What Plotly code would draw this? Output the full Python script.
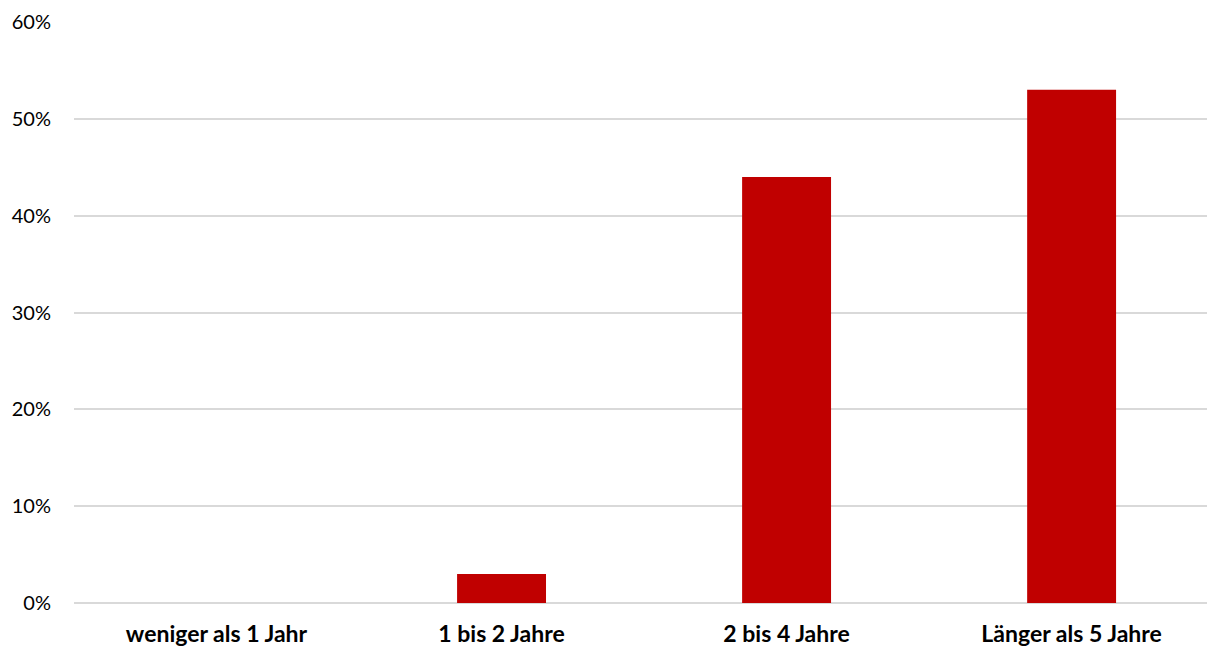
import plotly.graph_objects as go

categories = ["weniger als 1 Jahr", "1 bis 2 Jahre", "2 bis 4 Jahre", "Länger als 5 Jahre"]
values = [0.0, 0.03, 0.44, 0.53]
y_ticks = [0, 0.1, 0.2, 0.3, 0.4, 0.5, 0.6]
y_tick_labels = ["0%", "10%", "20%", "30%", "40%", "50%", "60%"]

fig = go.Figure(
    go.Bar(
        x=categories,
        y=values,
        marker=dict(color="#C00000", line=dict(width=0)),
        width=0.312,
    )
)

fig.update_layout(
    width=1207,
    height=649,
    margin=dict(l=74, r=0, t=22, b=46),
    plot_bgcolor="white",
    paper_bgcolor="white",
    showlegend=False,
    font=dict(family="Lato, Open Sans, sans-serif", size=20, color="#000000"),
)

fig.update_xaxes(
    type="category",
    range=[-0.5, 3.475],
    showgrid=False,
    showline=False,
    zeroline=False,
    ticks="",
    ticklabelstandoff=15,
    tickfont=dict(size=23, family="Lato, Open Sans, sans-serif", weight="bold"),
)

fig.update_yaxes(
    range=[0, 0.6],
    tickvals=y_ticks,
    ticktext=y_tick_labels,
    showgrid=True,
    gridcolor="#D9D9D9",
    gridwidth=2,
    zeroline=True,
    zerolinecolor="#D9D9D9",
    zerolinewidth=2,
    showline=False,
    ticks="",
    ticklabelstandoff=22,
    tickfont=dict(size=20, family="Lato, Open Sans, sans-serif"),
)

fig.write_html("out.html")
